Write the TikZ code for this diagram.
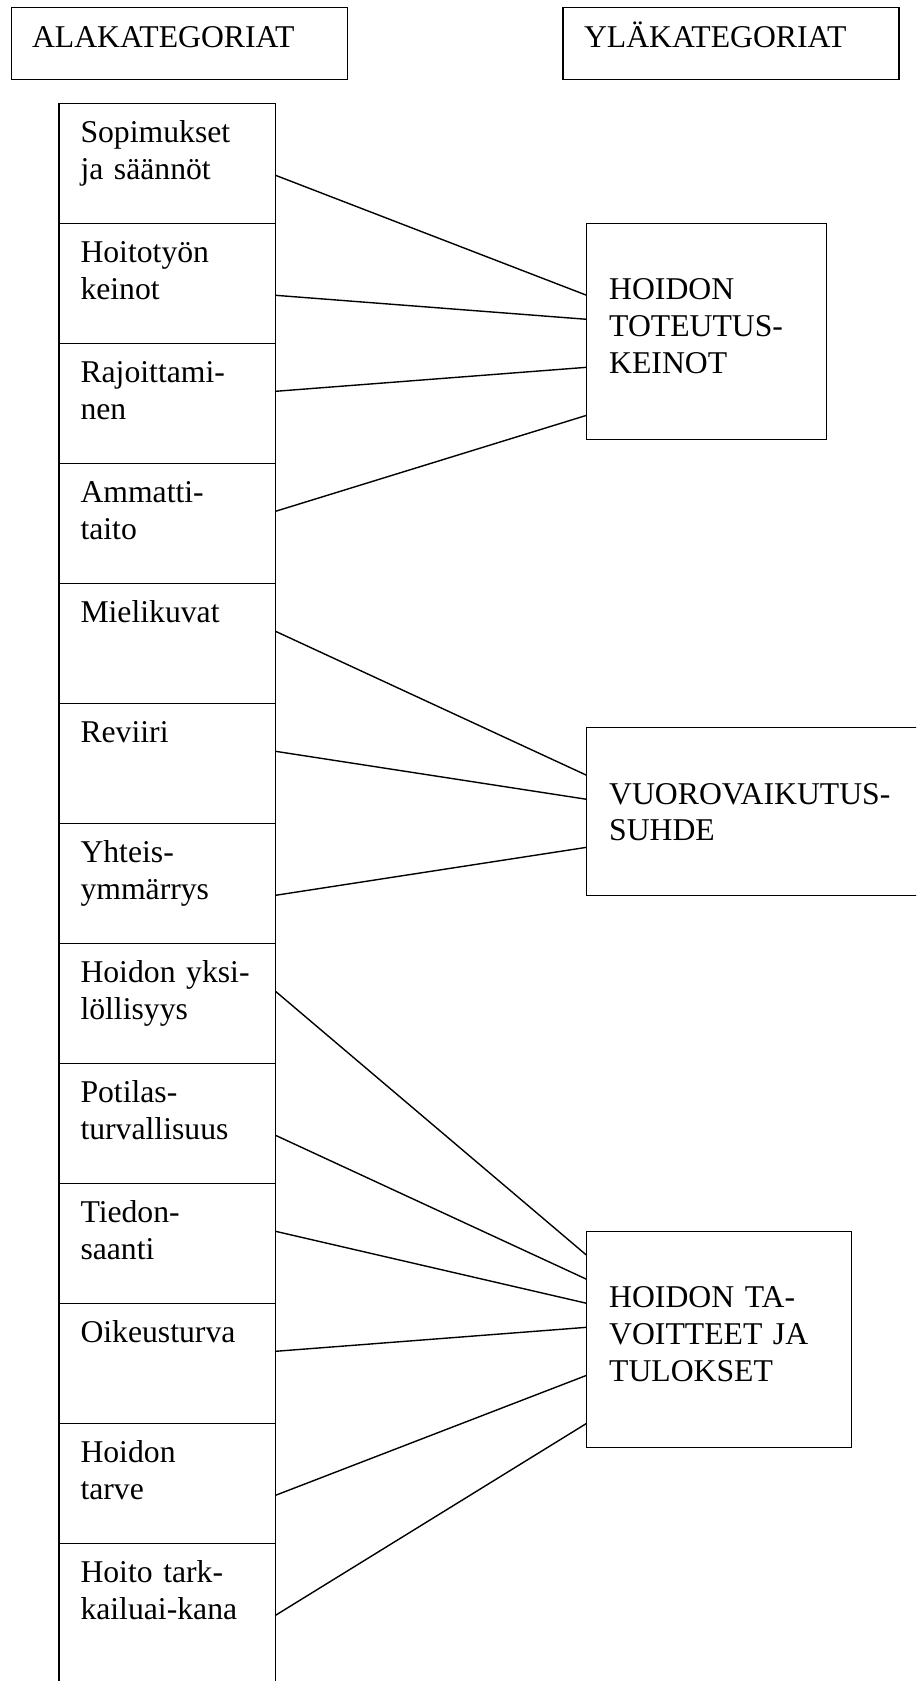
\documentclass[tikz,border=0pt]{standalone}
\usepackage{fontspec}
\setmainfont{Liberation Serif}
\begin{document}
\begin{tikzpicture}[x=1pt,y=-1pt,
  every node/.style={inner sep=0pt, outer sep=0pt},
  box/.style={draw, line width=1.5pt, anchor=north west},
  rowbox/.style={box, minimum width=216.5pt, minimum height=120pt},
  lbl/.style={anchor=base west, align=left, text width=#1},
  lbl/.default=190pt,
  conn/.style={line width=1.4pt},
  font=\fontsize{31.7}{36.7}\selectfont]
\useasboundingbox (0,0) rectangle (916,1681);
\clip (0,0) rectangle (916,1681);

% titles
\node[box, minimum width=336pt, minimum height=72pt] (ala) at (11.5,7.3) {};
\node[lbl=310pt] (alat) at ([xshift=20.5pt,yshift=-40.4pt]ala.north west) {ALAKATEGORIAT};
\node[box, minimum width=336pt, minimum height=72pt] (yla) at (563,7.3) {};
\node[lbl=310pt] (ylat) at ([xshift=21pt,yshift=-40.4pt]yla.north west) {YLÄKATEGORIAT};

% left column
\node[rowbox] (r1) at (59,103.3) {};
\node[rowbox] (r2) at (r1.south west) {};
\node[rowbox] (r3) at (r2.south west) {};
\node[rowbox] (r4) at (r3.south west) {};
\node[rowbox] (r5) at (r4.south west) {};
\node[rowbox] (r6) at (r5.south west) {};
\node[rowbox] (r7) at (r6.south west) {};
\node[rowbox] (r8) at (r7.south west) {};
\node[rowbox] (r9) at (r8.south west) {};
\node[rowbox] (r10) at (r9.south west) {};
\node[rowbox] (r11) at (r10.south west) {};
\node[rowbox] (r12) at (r11.south west) {};
\node[rowbox, minimum height=180pt] (r13) at (r12.south west) {};

\node[lbl] (t1) at ([xshift=21.5pt,yshift=-39.4pt]r1.north west) {Sopimukset\\ja säännöt};
\node[lbl] (t2) at ([xshift=21.5pt,yshift=-39.4pt]r2.north west) {Hoitotyön\\keinot};
\node[lbl] (t3) at ([xshift=21.5pt,yshift=-39.4pt]r3.north west) {Rajoittami-\\nen};
\node[lbl] (t4) at ([xshift=21.5pt,yshift=-39.4pt]r4.north west) {Ammatti-\\taito};
\node[lbl] (t5) at ([xshift=21.5pt,yshift=-39.4pt]r5.north west) {Mielikuvat};
\node[lbl] (t6) at ([xshift=21.5pt,yshift=-39.4pt]r6.north west) {Reviiri};
\node[lbl] (t7) at ([xshift=21.5pt,yshift=-39.4pt]r7.north west) {Yhteis-\\ymmärrys};
\node[lbl] (t8) at ([xshift=21.5pt,yshift=-39.4pt]r8.north west) {Hoidon yksi-\\löllisyys};
\node[lbl] (t9) at ([xshift=21.5pt,yshift=-39.4pt]r9.north west) {Potilas-\\turvallisuus};
\node[lbl] (t10) at ([xshift=21.5pt,yshift=-39.4pt]r10.north west) {Tiedon-\\saanti};
\node[lbl] (t11) at ([xshift=21.5pt,yshift=-39.4pt]r11.north west) {Oikeusturva};
\node[lbl] (t12) at ([xshift=21.5pt,yshift=-39.4pt]r12.north west) {Hoidon\\tarve};
\node[lbl] (t13) at ([xshift=21.5pt,yshift=-39.4pt]r13.north west) {Hoito tark-\\kailuai-kana};

% upper categories
\node[box, minimum width=240pt, minimum height=216pt] (tot) at (586.7,223.3) {};
\node[lbl=230pt] (tott) at ([xshift=22.5pt,yshift=-76.3pt]tot.north west) {HOIDON\\TOTEUTUS-\\KEINOT};
\node[box, minimum width=340pt, minimum height=168pt] (vuo) at (586.7,727.3) {};
\node[lbl=320pt] (vuot) at ([xshift=22.5pt,yshift=-76.8pt]vuo.north west) {VUOROVAIKUTUS-\\SUHDE};
\node[box, minimum width=265pt, minimum height=216pt] (tav) at (586.7,1231.3) {};
\node[lbl=250pt] (tavt) at ([xshift=22.5pt,yshift=-76.5pt]tav.north west) {HOIDON TA-\\VOITTEET JA\\TULOKSET};

% connectors
\draw[conn] ([yshift=-72pt]r1.north east) -- ([yshift=-72pt]tot.north west);
\draw[conn] ([yshift=-72pt]r2.north east) -- ([yshift=-96pt]tot.north west);
\draw[conn] ([yshift=-48pt]r3.north east) -- ([yshift=-144pt]tot.north west);
\draw[conn] ([yshift=-48pt]r4.north east) -- ([yshift=-192pt]tot.north west);
\draw[conn] ([yshift=-48pt]r5.north east) -- ([yshift=-48pt]vuo.north west);
\draw[conn] ([yshift=-48pt]r6.north east) -- ([yshift=-72pt]vuo.north west);
\draw[conn] ([yshift=-72pt]r7.north east) -- ([yshift=-120pt]vuo.north west);
\draw[conn] ([yshift=-48pt]r8.north east) -- ([yshift=-24pt]tav.north west);
\draw[conn] ([yshift=-72pt]r9.north east) -- ([yshift=-48pt]tav.north west);
\draw[conn] ([yshift=-48pt]r10.north east) -- ([yshift=-72pt]tav.north west);
\draw[conn] ([yshift=-48pt]r11.north east) -- ([yshift=-96pt]tav.north west);
\draw[conn] ([yshift=-72pt]r12.north east) -- ([yshift=-144pt]tav.north west);
\draw[conn] ([yshift=-72pt]r13.north east) -- ([yshift=-192pt]tav.north west);
\end{tikzpicture}
\end{document}
